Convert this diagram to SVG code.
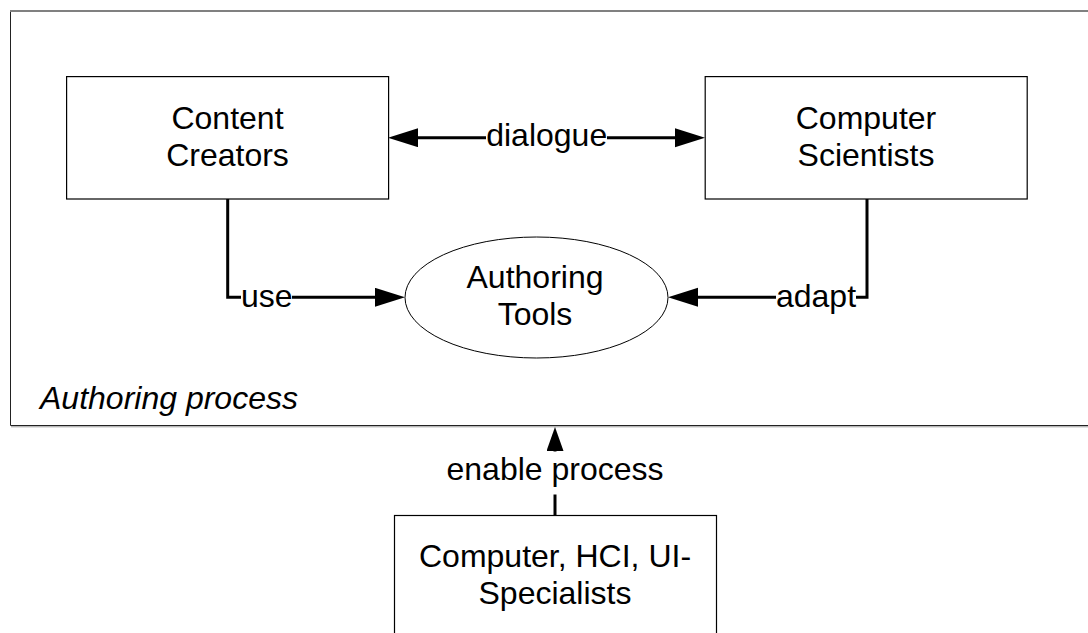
<svg xmlns="http://www.w3.org/2000/svg" width="1088" height="633" viewBox="0 0 1088 633">
  <style>
    text { font-family: "Liberation Sans", Arial, sans-serif; font-size: 32px; fill: #000; }
    .c { text-anchor: middle; }
    .box { fill: #fff; stroke: #000; stroke-width: 1.2; }
    .conn { fill: none; stroke: #000; stroke-width: 3; }
    .lblbg { fill: #fff; }
  </style>
  <defs>
    <marker id="arrowLg" markerUnits="userSpaceOnUse" markerWidth="31" markerHeight="20" refX="0" refY="9.5" orient="auto-start-reverse">
      <path d="M0,0 L30,9.5 L0,19 Z" fill="#000"/>
    </marker>
    <marker id="arrowSm" markerUnits="userSpaceOnUse" markerWidth="25" markerHeight="18" refX="0" refY="8.5" orient="auto">
      <path d="M0,0 L24,8.5 L0,17 Z" fill="#000"/>
    </marker>
  </defs>

  <!-- process frame -->
  <g id="authoring-process">
    <path d="M10.5,11 V425.5 H1100" fill="none" stroke="#222" stroke-width="1"/>
    <path d="M10,11 H1100" fill="none" stroke="#808080" stroke-width="2"/>
    <path d="M11,426.8 H1100" fill="none" stroke="#999" stroke-width="1"/>
    <text x="40" y="409" font-style="italic">Authoring process</text>
  </g>

  <!-- connectors -->
  <g id="connectors">
    <path class="conn" d="M418,137.7 H675" marker-start="url(#arrowLg)" marker-end="url(#arrowLg)"/>
    <path class="conn" d="M227.7,199 V297.3 H375" marker-end="url(#arrowLg)"/>
    <path class="conn" d="M867,199 V297.3 H698" marker-end="url(#arrowLg)"/>
    <path class="conn" d="M555,515 V451" marker-end="url(#arrowSm)"/>
    <!-- labels on connectors -->
    <rect class="lblbg" x="486" y="125" width="121" height="26"/>
    <text class="c" x="546.7" y="146">dialogue</text>
    <rect class="lblbg" x="241" y="285" width="51" height="26"/>
    <text class="c" x="266.7" y="306.7">use</text>
    <rect class="lblbg" x="776" y="285" width="80" height="26"/>
    <text class="c" x="816" y="306.7">adapt</text>
    <rect class="lblbg" x="446" y="451.5" width="218" height="43"/>
    <text class="c" x="555" y="480">enable process</text>
  </g>

  <g id="content-creators">
    <rect class="box" x="66.6" y="76.6" width="322" height="122.4"/>
    <text class="c" x="227.5" y="129">Content</text>
    <text class="c" x="227.5" y="166">Creators</text>
  </g>

  <g id="computer-scientists">
    <rect class="box" x="705.2" y="76.6" width="322" height="122.4"/>
    <text class="c" x="866" y="129">Computer</text>
    <text class="c" x="866" y="166">Scientists</text>
  </g>

  <g id="authoring-tools">
    <ellipse cx="536.5" cy="297.5" rx="131.5" ry="60.5" fill="#fff" stroke="#000" stroke-width="1"/>
    <text class="c" x="535" y="288">Authoring</text>
    <text class="c" x="535" y="325">Tools</text>
  </g>

  <g id="specialists">
    <rect class="box" x="394.5" y="515.5" width="322" height="130"/>
    <text class="c" x="555" y="567">Computer, HCI, UI-</text>
    <text class="c" x="555" y="604">Specialists</text>
  </g>
</svg>
